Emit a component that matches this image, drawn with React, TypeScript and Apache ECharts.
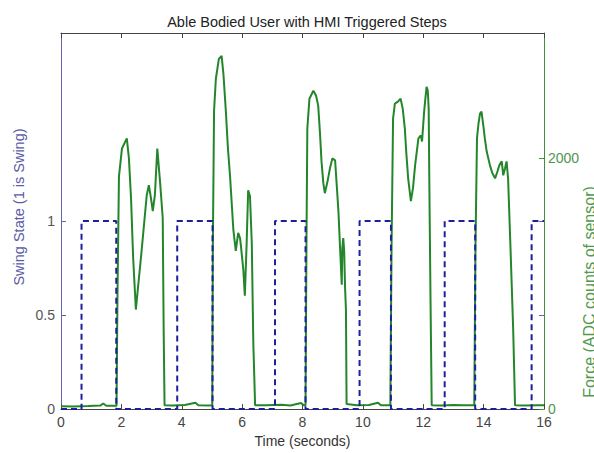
import React, { useEffect, useRef } from "react";
import * as echarts from "echarts";

// Swing state (left axis): value holds until the next switch time
const swingTimes = [0, 0.68, 1.83, 3.85, 5.02, 7.09, 8.1, 9.89, 10.93, 12.71, 13.72, 15.59, 16];
const swingStates = [0, 1, 0, 1, 0, 1, 0, 1, 0, 1, 0, 1, 1];

// Force sensor samples (right axis, ADC counts)
const forceTimes = [
  0, 0.4, 0.9, 1.3, 1.4, 1.5, 1.84,
  1.85, 1.87, 1.92, 2.02, 2.18, 2.25, 2.32, 2.39, 2.48, 2.55, 2.67, 2.84, 2.91, 2.98, 3.04, 3.11, 3.19, 3.28, 3.37, 3.4, 3.43,
  3.7, 4.1, 4.45, 4.55, 4.9, 5.01,
  5.03, 5.07, 5.13, 5.23, 5.32, 5.38, 5.46, 5.53, 5.6, 5.71, 5.79, 5.87, 5.93, 5.96, 6.04, 6.09, 6.15, 6.2, 6.26, 6.32, 6.37, 6.43,
  6.8, 7.3, 7.6, 7.95, 8.05, 8.1,
  8.13, 8.16, 8.23, 8.36, 8.45, 8.52, 8.58, 8.63, 8.69, 8.74, 8.83, 8.91, 8.99, 9.08, 9.13, 9.19, 9.24, 9.3, 9.32, 9.35, 9.38, 9.41, 9.44, 9.46,
  9.8, 10.2, 10.5, 10.6, 10.91,
  10.95, 11.0, 11.06, 11.16, 11.25, 11.32, 11.39, 11.44, 11.5, 11.59, 11.66, 11.73, 11.84, 11.92, 11.96, 12.03, 12.07, 12.11, 12.15, 12.18, 12.2, 12.24, 12.28,
  12.6, 13.0, 13.3, 13.69,
  13.73, 13.78, 13.83, 13.88, 13.93, 13.99, 14.04, 14.1, 14.21, 14.29, 14.38, 14.46, 14.52, 14.6, 14.65, 14.71, 14.76, 14.81, 14.89, 14.98, 15.04,
  15.4, 15.8, 16,
];
const forceValues = [
  22, 20, 24, 28, 45, 27, 26,
  30, 889, 1857, 2079, 2159, 2000, 1683, 1206, 794, 968, 1262, 1706, 1786, 1683, 1579, 1706, 2079, 1817, 1524, 651, 30,
  28, 32, 50, 30, 28, 30,
  1286, 2381, 2635, 2794, 2817, 2675, 2381, 2079, 1857, 1429, 1262, 1405, 1365, 1302, 1111, 905, 1325, 1746, 1698, 1325, 532, 30,
  30, 35, 28, 48, 30, 30,
  1286, 2238, 2476, 2540, 2500, 2421, 2198, 1976, 1802, 1722, 1817, 1921, 2000, 1984, 1802, 1579, 1310, 992, 1286, 1365, 1262, 968, 786, 40,
  30, 32, 50, 30, 30,
  1286, 2317, 2437, 2452, 2476, 2397, 2238, 2040, 1841, 1659, 1762, 1944, 2159, 2183, 2135, 2373, 2476, 2571, 2540, 2397, 1841, 889, 30,
  28, 32, 30, 30,
  1286, 2159, 2278, 2357, 2373, 2262, 2159, 2056, 1944, 1881, 1841, 1897, 1944, 1976, 1865, 1921, 1976, 1841, 1286, 627, 30,
  28, 30, 30,
];

const swingTicks = [0, 0.5, 1];
const forceTicks = [0, 2000];

const FONT = "Liberation Sans";
const BLUE = "#1f1f9c";
const GREEN = "#24862b";
const AXIS_BLUE = "#6464a8";
const AXIS_GREEN = "#3f8f3f";

export default function App() {
  const ref = useRef<HTMLDivElement>(null);

  useEffect(() => {
    if (!ref.current) return;
    const chart = echarts.init(ref.current, null, { renderer: "svg" });

    const swingData = swingTimes.map((t, i) => [t, swingStates[i]]);
    const forceData = forceTimes.map((t, i) => [t, forceValues[i]]);

    const tickInside = (color: string, customValues?: number[]) => ({
      show: true,
      inside: true,
      length: 5,
      lineStyle: { color, width: 1 },
      ...(customValues ? { customValues } : {}),
    });

    chart.setOption({
      animation: false,
      backgroundColor: "#ffffff",
      title: {
        text: "Able Bodied User with HMI Triggered Steps",
        left: 302,
        textAlign: "center",
        top: 9,
        textStyle: { fontFamily: FONT, fontSize: 14.5, fontWeight: "normal", color: "#222" },
      },
      grid: { left: 61, right: 50, top: 33, bottom: 41 },
      xAxis: [
        {
          type: "value",
          min: 0,
          max: 16,
          interval: 2,
          position: "bottom",
          name: "Time (seconds)",
          nameLocation: "middle",
          nameGap: 23,
          nameTextStyle: { fontFamily: FONT, fontSize: 14, color: "#333" },
          axisLine: { onZero: false, lineStyle: { color: "#444", width: 1 } },
          axisTick: tickInside("#444"),
          axisLabel: { fontFamily: FONT, fontSize: 14, color: "#444", margin: 6 },
          splitLine: { show: false },
        },
        {
          type: "value",
          min: 0,
          max: 16,
          interval: 2,
          position: "top",
          axisLine: { onZero: false, lineStyle: { color: "#444", width: 1 } },
          axisTick: tickInside("#444"),
          axisLabel: { show: false },
          splitLine: { show: false },
        },
      ],
      yAxis: [
        {
          type: "value",
          min: 0,
          max: 2,
          interval: 0.5,
          position: "left",
          axisLine: { show: true, onZero: false, lineStyle: { color: AXIS_BLUE, width: 1 } },
          axisTick: tickInside(AXIS_BLUE, swingTicks),
          axisLabel: { fontFamily: FONT, fontSize: 14, color: "#555", margin: 6, customValues: swingTicks },
          splitLine: { show: false },
        },
        {
          type: "value",
          min: 0,
          max: 3000,
          interval: 1000,
          position: "right",
          axisLine: { show: true, onZero: false, lineStyle: { color: AXIS_GREEN, width: 1 } },
          axisTick: tickInside(AXIS_GREEN, forceTicks),
          axisLabel: {
            fontFamily: FONT,
            fontSize: 14,
            color: "#4f944f",
            margin: 4,
            customValues: forceTicks,
            formatter: (v: number) => String(v),
          },
          splitLine: { show: false },
        },
        {
          type: "value",
          min: 0,
          max: 2,
          interval: 0.5,
          position: "right",
          axisLine: { show: false, onZero: false },
          axisTick: tickInside(AXIS_BLUE, [0.5, 1]),
          axisLabel: { show: false },
          splitLine: { show: false },
        },
      ],
      graphic: [
        {
          type: "text",
          x: 19,
          y: 207,
          rotation: Math.PI / 2,
          style: {
            text: "Swing State (1 is Swing)",
            fill: "#5a5aa6",
            font: `14.5px "${FONT}"`,
            align: "center",
            verticalAlign: "middle",
          },
        },
        {
          type: "text",
          x: 589,
          y: 292,
          rotation: Math.PI / 2,
          style: {
            text: "Force (ADC counts of sensor)",
            fill: "#4f9a4f",
            font: `16px "${FONT}"`,
            align: "center",
            verticalAlign: "middle",
          },
        },
      ],
      series: [
        {
          name: "Force",
          type: "line",
          xAxisIndex: 0,
          yAxisIndex: 1,
          data: forceData,
          showSymbol: false,
          lineStyle: { color: GREEN, width: 2 },
          itemStyle: { color: GREEN },
          z: 2,
        },
        {
          name: "Swing",
          type: "line",
          xAxisIndex: 0,
          yAxisIndex: 0,
          data: swingData,
          step: "end",
          showSymbol: false,
          lineStyle: { color: BLUE, width: 2, type: [6, 4] },
          itemStyle: { color: BLUE },
          z: 3,
        },
      ],
    });

    return () => chart.dispose();
  }, []);

  return (
    <div
      ref={ref}
      style={{ position: "fixed", left: 0, top: 0, width: 594, height: 453, background: "#fff" }}
    />
  );
}
